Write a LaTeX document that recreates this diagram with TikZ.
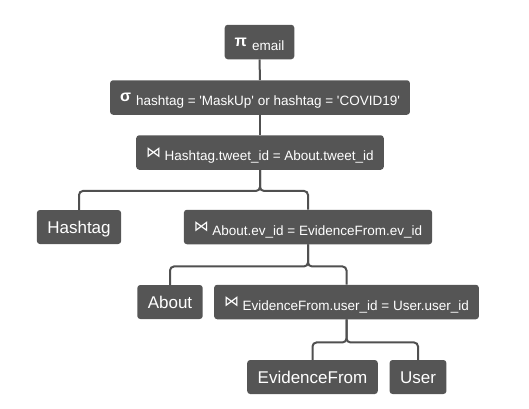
\documentclass[tikz,border=0pt]{standalone}
\usepackage{fontspec}
\setmainfont{Liberation Sans}
\newfontfamily\symfont{DejaVu Sans}
\definecolor{boxgray}{RGB}{85,85,85}
\definecolor{linegray}{RGB}{80,80,80}
\newcommand{\opsym}[1]{\raisebox{4pt}{\fontsize{16}{16}\selectfont\bfseries #1}\hspace{5pt}}
\newcommand{\joinsym}{\raisebox{3.6pt}{\fontsize{15}{15}\selectfont\symfont ⋈}\hspace{3.5pt}}
\newcommand{\q}{\textquotesingle}
\tikzset{
  box/.style={fill=boxgray, rounded corners=3pt, text=white, inner xsep=10pt, inner ysep=0pt},
  leaf/.style={box, font=\fontsize{17}{20}\selectfont, text height=12.2pt, text depth=0pt, minimum height=34pt, inner xsep=10.5pt},
  op/.style={box, font=\fontsize{13.5}{16}\selectfont, text height=25.5pt, text depth=9pt},
  link/.style={draw=linegray, line width=2pt, rounded corners=4pt}
}
\begin{document}
\begin{tikzpicture}[x=1pt,y=-1pt]
\useasboundingbox (0,0) rectangle (529,408);
\node[op] (pi) at (259.5,42) {\opsym{π}email};
\node[op] (sig) at (260,97.5) {\opsym{σ}hashtag = \q MaskUp\q{} or hashtag = \q COVID19\q};
\node[op] (j1) at (260,152.5) {\joinsym Hashtag.tweet\_id = About.tweet\_id};
\node[leaf] (hash) at (79,227) {Hashtag};
\node[op] (j2) at (308,227) {\joinsym About.ev\_id = EvidenceFrom.ev\_id};
\node[leaf] (about) at (170,302) {About};
\node[op] (j3) at (346.5,302) {\joinsym EvidenceFrom.user\_id = User.user\_id};
\node[leaf] (ev) at (312.5,377) {EvidenceFrom};
\node[leaf] (user) at (418,377) {User};
\draw[link] (pi.south) -- (sig.north);
\draw[link] (sig.south) -- (j1.north);
\draw[link] (j1.south) -- ++(0,21) -| (hash.north);
\draw[link] (j1.south) -- ++(0,21) -| (j2.north);
\draw[link] (j2.south) -- ++(0,22) -| (about.north);
\draw[link] (j2.south) -- ++(0,22) -| (j3.north);
\draw[link] (j3.south) -- ++(0,23) -| (ev.north);
\draw[link] (j3.south) -- ++(0,23) -| (user.north);
\end{tikzpicture}
\end{document}
